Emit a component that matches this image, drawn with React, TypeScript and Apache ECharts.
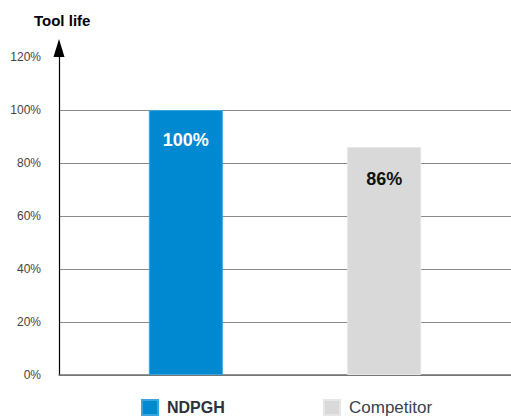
import React, { useEffect, useRef } from "react";
import * as echarts from "echarts";

const seriesNames = ["NDPGH", "Competitor"];
const toolLife = [100, 86];
const yTicks = [0, 20, 40, 60, 80, 100, 120];
const category = ["Tool life"];

export default function App() {
  const ref = useRef<HTMLDivElement>(null);
  useEffect(() => {
    const chart = echarts.init(ref.current!, null, { renderer: "svg" });
    const font = "'Liberation Sans', Arial, Helvetica, sans-serif";
    chart.setOption({
      animation: false,
      textStyle: { fontFamily: font },
      title: {
        text: "Tool life",
        left: 29,
        top: 8,
        textStyle: { fontSize: 15, fontWeight: "bold", color: "#000", fontFamily: font },
      },
      legend: [
        {
          data: [seriesNames[0]],
          left: 141,
          top: 399,
          padding: 0,
          icon: "rect",
          itemWidth: 16,
          itemHeight: 15,
          itemGap: 10,
          textStyle: { fontSize: 16, lineHeight: 17, fontWeight: "bold", color: "#2b323d", fontFamily: font, padding: [0, 0, 0, 4] },
        },
        {
          data: [seriesNames[1]],
          left: 323,
          top: 399,
          padding: 0,
          icon: "rect",
          itemWidth: 16,
          itemHeight: 15,
          textStyle: { fontSize: 17, lineHeight: 17, color: "#3a414c", fontFamily: font, padding: [0, 0, 0, 4] },
        },
      ],
      grid: { left: 59, width: 460, top: 57, bottom: 43, containLabel: false },
      xAxis: {
        type: "category",
        data: category,
        axisLine: { lineStyle: { color: "#707070", width: 1.5 } },
        axisTick: { show: false },
        axisLabel: { show: false },
      },
      yAxis: {
        type: "value",
        min: yTicks[0],
        max: yTicks[yTicks.length - 1],
        interval: 20,
        axisLine: {
          show: true,
          lineStyle: { color: "#000", width: 1.2 },
          symbol: ["none", "triangle"],
          symbolSize: [11, 18],
          symbolOffset: [0, 9],
        },
        axisTick: { show: false },
        axisLabel: {
          formatter: "{value}%",
          fontSize: 12,
          color: "#444",
          margin: 18,
          fontFamily: font,
        },
        splitLine: {
          show: true,
          lineStyle: {
            color: ["#8a8a8a", "#8a8a8a", "#8a8a8a", "#8a8a8a", "#8a8a8a", "#8a8a8a", "rgba(0,0,0,0)"],
            width: 1,
          },
        },
      },
      series: [
        {
          name: seriesNames[0],
          type: "bar",
          data: [toolLife[0]],
          barWidth: 74,
          barGap: "168%",
          itemStyle: { color: "#0088d1", borderColor: "#3aa4e0", borderWidth: 1 },
          label: {
            show: true,
            position: "insideTop",
            distance: 21,
            formatter: "{c}%",
            fontSize: 18,
            fontWeight: "bold",
            color: "#fff",
            fontFamily: font,
          },
        },
        {
          name: seriesNames[1],
          type: "bar",
          data: [toolLife[1]],
          barWidth: 74,
          itemStyle: { color: "#d9d9d9", borderColor: "#e6e6e6", borderWidth: 1 },
          label: {
            show: true,
            position: "insideTop",
            distance: 23,
            formatter: "{c}%",
            fontSize: 18,
            fontWeight: "bold",
            color: "#111",
            fontFamily: font,
          },
        },
      ],
    });
    return () => chart.dispose();
  }, []);
  return <div ref={ref} style={{ width: 511, height: 418, position: "absolute", left: 0, top: 0 }} />;
}
